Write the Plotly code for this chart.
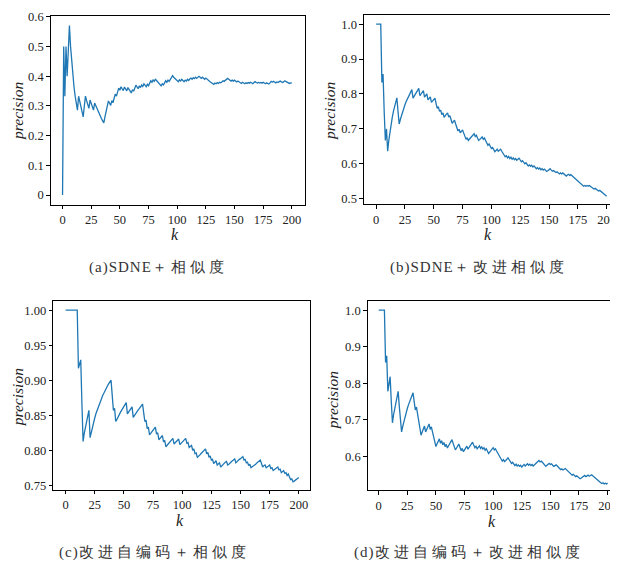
import plotly.graph_objects as go

# ---------------- data ----------------
k_values = list(range(201))

prec_a = [
    0, 0.5, 0.333, 0.5, 0.4, 0.5, 0.571, 0.5, 0.444, 0.4,
    0.364, 0.333, 0.308, 0.286, 0.333, 0.3125, 0.294, 0.278, 0.263, 0.3,
    0.333, 0.318, 0.304, 0.292, 0.32, 0.308, 0.296, 0.286, 0.31, 0.3,
    0.29, 0.281, 0.273, 0.265, 0.257, 0.25, 0.243, 0.263, 0.282, 0.3,
    0.317, 0.31, 0.302, 0.318, 0.311, 0.326, 0.34, 0.333, 0.347, 0.36,
    0.353, 0.365, 0.358, 0.352, 0.364, 0.357, 0.351, 0.362, 0.356, 0.35,
    0.344, 0.355, 0.35, 0.36, 0.37, 0.364, 0.358, 0.368, 0.362, 0.371,
    0.366, 0.375, 0.37, 0.365, 0.373, 0.368, 0.377, 0.385, 0.38, 0.388,
    0.383, 0.39, 0.386, 0.381, 0.376, 0.372, 0.368, 0.375, 0.371, 0.378,
    0.385, 0.38, 0.387, 0.383, 0.389, 0.396, 0.402, 0.397, 0.393, 0.389,
    0.385, 0.382, 0.388, 0.384, 0.39, 0.386, 0.382, 0.387, 0.384, 0.39,
    0.386, 0.391, 0.394, 0.39, 0.395, 0.392, 0.397, 0.393, 0.398, 0.4,
    0.397, 0.393, 0.397, 0.394, 0.39, 0.394, 0.39, 0.387, 0.384, 0.381,
    0.378, 0.375, 0.373, 0.377, 0.375, 0.379, 0.376, 0.38, 0.378, 0.381,
    0.385, 0.383, 0.386, 0.39, 0.393, 0.39, 0.387, 0.384, 0.387, 0.384,
    0.387, 0.384, 0.381, 0.384, 0.381, 0.378, 0.376, 0.38, 0.377, 0.375,
    0.378, 0.376, 0.379, 0.377, 0.38, 0.378, 0.375, 0.379, 0.382, 0.379,
    0.377, 0.379, 0.377, 0.379, 0.377, 0.38, 0.377, 0.375, 0.378, 0.376,
    0.374, 0.378, 0.383, 0.38, 0.383, 0.381, 0.378, 0.381, 0.379, 0.382,
    0.384, 0.381, 0.379, 0.382, 0.385, 0.382, 0.38, 0.378, 0.376, 0.378,
    0.377,
]

prec_b = [
    1.0, 1.0, 1.0, 1.0, 1.0, 0.833, 0.857, 0.75, 0.667, 0.7,
    0.636, 0.667, 0.692, 0.714, 0.733, 0.75, 0.765, 0.778, 0.789, 0.75,
    0.714, 0.727, 0.739, 0.75, 0.76, 0.769, 0.778, 0.786, 0.793, 0.8,
    0.806, 0.8125, 0.788, 0.794, 0.8, 0.806, 0.811, 0.816, 0.795, 0.8,
    0.805, 0.81, 0.791, 0.795, 0.8, 0.783, 0.787, 0.792, 0.776, 0.78,
    0.784, 0.788, 0.773, 0.759, 0.764, 0.75, 0.754, 0.741, 0.746, 0.733,
    0.738, 0.742, 0.746, 0.734, 0.738, 0.727, 0.716, 0.721, 0.725, 0.714,
    0.704, 0.694, 0.699, 0.689, 0.693, 0.697, 0.688, 0.679, 0.67, 0.675,
    0.667, 0.671, 0.675, 0.679, 0.682, 0.686, 0.678, 0.682, 0.674, 0.667,
    0.67, 0.674, 0.677, 0.67, 0.674, 0.667, 0.66, 0.653, 0.657, 0.65,
    0.644, 0.647, 0.641, 0.635, 0.638, 0.642, 0.636, 0.639, 0.642, 0.636,
    0.631, 0.625, 0.62, 0.623, 0.617, 0.621, 0.615, 0.619, 0.613, 0.617,
    0.612, 0.615, 0.61, 0.613, 0.616, 0.611, 0.606, 0.609, 0.605, 0.6,
    0.603, 0.598, 0.594, 0.597, 0.593, 0.596, 0.591, 0.594, 0.59, 0.586,
    0.589, 0.585, 0.588, 0.583, 0.586, 0.582, 0.585, 0.581, 0.578, 0.58,
    0.583, 0.586, 0.582, 0.579, 0.581, 0.578, 0.575, 0.577, 0.574, 0.571,
    0.574, 0.571, 0.574, 0.57, 0.567, 0.565, 0.568, 0.57, 0.567, 0.569,
    0.566, 0.563, 0.56, 0.557, 0.553, 0.55, 0.547, 0.544, 0.541, 0.538,
    0.536, 0.538, 0.536, 0.538, 0.536, 0.538, 0.535, 0.533, 0.53, 0.528,
    0.53, 0.527, 0.525, 0.522, 0.524, 0.522, 0.519, 0.516, 0.513, 0.51,
    0.507,
]

prec_c = [
    1.0, 1.0, 1.0, 1.0, 1.0, 1.0, 1.0, 1.0, 1.0, 1.0,
    1.0, 0.917, 0.923, 0.929, 0.867, 0.8125, 0.824, 0.833, 0.842, 0.85,
    0.857, 0.818, 0.826, 0.833, 0.84, 0.846, 0.852, 0.857, 0.862, 0.867,
    0.871, 0.875, 0.879, 0.882, 0.886, 0.889, 0.892, 0.895, 0.897, 0.9,
    0.878, 0.857, 0.86, 0.841, 0.844, 0.848, 0.851, 0.854, 0.857, 0.86,
    0.863, 0.865, 0.868, 0.852, 0.855, 0.857, 0.86, 0.862, 0.847, 0.85,
    0.852, 0.855, 0.857, 0.859, 0.862, 0.864, 0.866, 0.853, 0.841, 0.843,
    0.831, 0.833, 0.822, 0.824, 0.827, 0.829, 0.831, 0.833, 0.823, 0.825,
    0.815, 0.817, 0.819, 0.821, 0.812, 0.814, 0.805, 0.807, 0.809, 0.811,
    0.813, 0.815, 0.817, 0.809, 0.811, 0.813, 0.814, 0.816, 0.808, 0.81,
    0.812, 0.814, 0.816, 0.817, 0.81, 0.811, 0.804, 0.806, 0.807, 0.8,
    0.802, 0.795, 0.796, 0.79, 0.791, 0.793, 0.795, 0.797, 0.798, 0.8,
    0.802, 0.795, 0.797, 0.79, 0.792, 0.786, 0.787, 0.781, 0.783, 0.785,
    0.779, 0.78, 0.782, 0.776, 0.778, 0.779, 0.781, 0.783, 0.784, 0.779,
    0.78, 0.782, 0.783, 0.785, 0.786, 0.788, 0.782, 0.784, 0.785, 0.787,
    0.788, 0.789, 0.791, 0.786, 0.787, 0.782, 0.783, 0.778, 0.78, 0.775,
    0.776, 0.778, 0.779, 0.78, 0.782, 0.783, 0.784, 0.786, 0.781, 0.776,
    0.778, 0.779, 0.775, 0.776, 0.777, 0.779, 0.774, 0.775, 0.771, 0.772,
    0.773, 0.775, 0.776, 0.772, 0.773, 0.768, 0.77, 0.771, 0.767, 0.768,
    0.764, 0.766, 0.762, 0.758, 0.759, 0.755, 0.756, 0.757, 0.759, 0.76,
    0.761,
]

prec_d = [
    1.0, 1.0, 1.0, 1.0, 1.0, 1.0, 0.857, 0.875, 0.778, 0.8,
    0.818, 0.75, 0.692, 0.714, 0.733, 0.75, 0.765, 0.778, 0.737, 0.7,
    0.667, 0.682, 0.696, 0.708, 0.72, 0.731, 0.741, 0.75, 0.759, 0.767,
    0.774, 0.75, 0.727, 0.735, 0.714, 0.694, 0.676, 0.658, 0.667, 0.675,
    0.683, 0.667, 0.674, 0.682, 0.689, 0.674, 0.681, 0.667, 0.653, 0.64,
    0.627, 0.635, 0.642, 0.648, 0.636, 0.643, 0.632, 0.638, 0.627, 0.633,
    0.623, 0.629, 0.635, 0.641, 0.646, 0.636, 0.627, 0.618, 0.623, 0.629,
    0.634, 0.625, 0.616, 0.622, 0.613, 0.618, 0.623, 0.628, 0.62, 0.625,
    0.63, 0.634, 0.639, 0.631, 0.624, 0.628, 0.621, 0.625, 0.629, 0.622,
    0.626, 0.62, 0.624, 0.617, 0.621, 0.615, 0.608, 0.612, 0.616, 0.62,
    0.624, 0.618, 0.621, 0.615, 0.61, 0.604, 0.598, 0.593, 0.587, 0.591,
    0.586, 0.589, 0.593, 0.596, 0.591, 0.586, 0.581, 0.584, 0.579, 0.575,
    0.579, 0.574, 0.577, 0.573, 0.576, 0.571, 0.575, 0.578, 0.574, 0.577,
    0.58, 0.576, 0.579, 0.575, 0.578, 0.574, 0.577, 0.58, 0.583, 0.586,
    0.589, 0.585, 0.587, 0.584, 0.58, 0.576, 0.573, 0.576, 0.578, 0.581,
    0.578, 0.58, 0.576, 0.573, 0.575, 0.577, 0.574, 0.57, 0.567, 0.564,
    0.566, 0.563, 0.565, 0.567, 0.564, 0.561, 0.557, 0.554, 0.552, 0.549,
    0.551, 0.548, 0.545, 0.547, 0.544, 0.541, 0.539, 0.541, 0.543, 0.546,
    0.548, 0.545, 0.547, 0.549, 0.546, 0.548, 0.55, 0.547, 0.544, 0.541,
    0.539, 0.536, 0.533, 0.531, 0.528, 0.526, 0.528, 0.525, 0.527, 0.525,
    0.527,
]

x_tick_vals = [0, 25, 50, 75, 100, 125, 150, 175, 200]

y_ticks_a = [0, 0.1, 0.2, 0.3, 0.4, 0.5, 0.6]
y_labels_a = ["0", "0.1", "0.2", "0.3", "0.4", "0.5", "0.6"]
y_ticks_b = [0.5, 0.6, 0.7, 0.8, 0.9, 1.0]
y_labels_b = ["0.5", "0.6", "0.7", "0.8", "0.9", "1.0"]
y_ticks_c = [0.75, 0.80, 0.85, 0.90, 0.95, 1.00]
y_labels_c = ["0.75", "0.80", "0.85", "0.90", "0.95", "1.00"]
y_ticks_d = [0.6, 0.7, 0.8, 0.9, 1.0]
y_labels_d = ["0.6", "0.7", "0.8", "0.9", "1.0"]

# caption = latin prefix + CJK part
caption_prefix = ["(a)SDNE", "(b)SDNE", "(c)", "(d)"]
caption_cjk = ["＋相似度", "＋改进相似度", "改进自编码＋相似度", "改进自编码＋改进相似度"]

# ---------------- layout geometry ----------------
# The page body has a default 8px margin, so the figure is sized to fit the
# 618x567 window and every target position (in window pixels) is shifted by 8.
OFF = 8
W, H = 618 - OFF, 567 - OFF
LINE_COLOR = "#1f77b4"
SERIF = "Liberation Serif"


def fx(px):
    return (px - OFF) / W


def fy(py):
    return 1 - (py - OFF) / H


panels = [
    # data, yticks, ylabels, (x0,x1,y0,y1 window px), xrange, yrange
    (prec_a, y_ticks_a, y_labels_a, (50.7, 305, 10, 201.7), [-10.4, 211.1], [-0.0322, 0.6033]),
    (prec_b, y_ticks_b, y_labels_b, (364.5, 618, 9, 201.5), [-10.6, 209.0], [0.4839, 1.0262]),
    (prec_c, y_ticks_c, y_labels_c, (53.3, 310.5, 300, 491.7), [-10.6, 209.6], [0.7434, 1.0126]),
    (prec_d, y_ticks_d, y_labels_d, (368.3, 618, 300, 492), [-9.6, 208.2], [0.5077, 1.0242]),
]

fig = go.Figure()
layout_axes = {}
for i, (vals, yt, yl, (px0, px1, py0, py1), xr, yr) in enumerate(panels):
    n = "" if i == 0 else str(i + 1)
    fig.add_trace(go.Scatter(
        x=k_values, y=vals, mode="lines",
        line=dict(color=LINE_COLOR, width=1.3),
        xaxis="x" + n, yaxis="y" + n, showlegend=False,
        hoverinfo="x+y",
    ))
    common = dict(showline=True, mirror=True, linecolor="black", linewidth=1,
                  ticks="outside", ticklen=3.5, tickwidth=0.8, tickcolor="black",
                  showgrid=False, zeroline=False, ticklabeloverflow="allow",
                  tickfont=dict(family=SERIF, size=12.5, color="#222"))
    layout_axes["xaxis" + n] = dict(
        domain=[fx(px0), min(fx(px1), 1.0)], range=xr, anchor="y" + n,
        tickmode="array", tickvals=x_tick_vals, **common)
    layout_axes["yaxis" + n] = dict(
        domain=[fy(py1), min(fy(py0), 1.0)], range=yr, anchor="x" + n,
        tickmode="array", tickvals=yt, ticktext=yl, **common)

fig.update_layout(**layout_axes)

annotations = []
# y-axis titles
for (xp, yp) in [(17.5, 106), (330, 106), (17.5, 397), (333, 400)]:
    annotations.append(dict(text="<i>precision</i>", x=fx(xp), y=fy(yp),
                            xref="paper", yref="paper", showarrow=False,
                            textangle=-90, xanchor="center", yanchor="middle",
                            font=dict(family=SERIF, size=15.5, color="#222")))
# x-axis titles
for (xp, yp) in [(175, 232), (489, 232), (180, 523), (493, 524)]:
    annotations.append(dict(text="<i>k</i>", x=fx(xp), y=fy(yp),
                            xref="paper", yref="paper", showarrow=False,
                            xanchor="center", yanchor="middle",
                            font=dict(family=SERIF, size=16, color="#222")))
# captions
for pre, cjk, (xp, yp) in zip(caption_prefix, caption_cjk,
                              [(159, 266), (480, 266), (155, 555), (470, 555)]):
    txt = ('<span style="letter-spacing:1px">' + pre + "</span>"
           + '<span style="letter-spacing:4px">' + cjk + "</span>")
    annotations.append(dict(text=txt, x=fx(xp), y=fy(yp),
                            xref="paper", yref="paper", showarrow=False,
                            xanchor="center", yanchor="middle",
                            font=dict(family=SERIF, size=15, color="#333")))

fig.update_layout(
    width=W, height=H,
    margin=dict(l=0, r=0, t=0, b=0),
    paper_bgcolor="white", plot_bgcolor="white",
    font=dict(family=SERIF),
    annotations=annotations,
)

fig.write_html("out.html")
